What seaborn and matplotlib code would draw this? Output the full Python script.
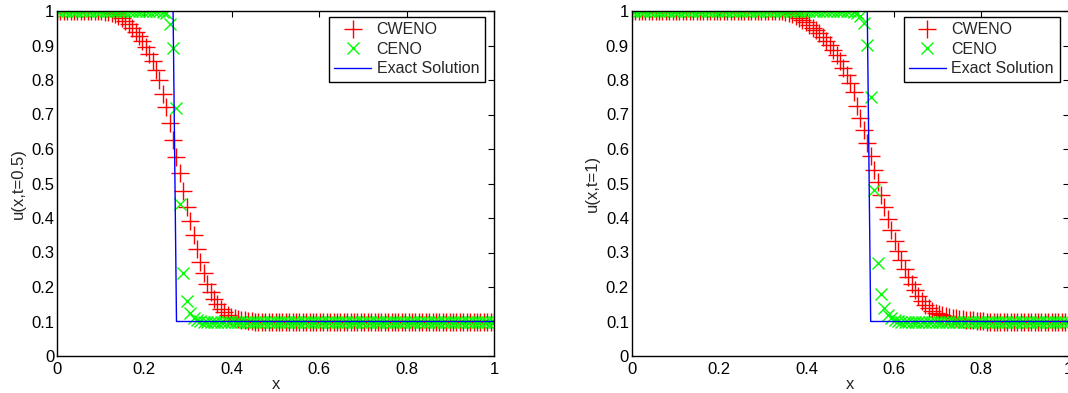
import numpy as np
import matplotlib
matplotlib.use("Agg")
import matplotlib.pyplot as plt
import seaborn as sns

# Uniform mesh on [0, 1] with 128 cells (nodes included)
N_CELLS = 128
x = np.arange(N_CELLS + 1) / N_CELLS

# ---- t = 0.5 ----
cweno_t05 = [
    1.0, 1.0, 1.0, 1.0, 1.0, 1.0, 1.0, 1.0, 1.0, 1.0, 1.0, 1.0, 1.0, 1.0, 0.998, 0.996,
    0.993, 0.99, 0.985, 0.98, 0.972, 0.963, 0.952, 0.94, 0.928, 0.913, 0.895, 0.875, 0.855, 0.83, 0.80, 0.76,
    0.723, 0.675, 0.626, 0.578, 0.53, 0.478, 0.433, 0.39, 0.35, 0.31, 0.272, 0.24, 0.21, 0.185, 0.165, 0.15,
    0.137, 0.127, 0.12, 0.114, 0.11, 0.107, 0.105, 0.103, 0.102, 0.101, 0.1, 0.1, 0.1, 0.1, 0.1, 0.1,
    0.1, 0.1, 0.1, 0.1, 0.1, 0.1, 0.1, 0.1, 0.1, 0.1, 0.1, 0.1, 0.1, 0.1, 0.1, 0.1,
    0.1, 0.1, 0.1, 0.1, 0.1, 0.1, 0.1, 0.1, 0.1, 0.1, 0.1, 0.1, 0.1, 0.1, 0.1, 0.1,
    0.1, 0.1, 0.1, 0.1, 0.1, 0.1, 0.1, 0.1, 0.1, 0.1, 0.1, 0.1, 0.1, 0.1, 0.1, 0.1,
    0.1, 0.1, 0.1, 0.1, 0.1, 0.1, 0.1, 0.1, 0.1, 0.1, 0.1, 0.1, 0.1, 0.1, 0.1, 0.1,
    0.1,
]
ceno_t05 = [
    1.0, 1.0, 1.0, 1.0, 1.0, 1.0, 1.0, 1.0, 1.0, 1.0, 1.0, 1.0, 1.0, 1.0, 1.0, 1.0,
    1.0, 1.0, 1.0, 1.0, 1.0, 1.0, 1.0, 1.0, 1.0, 1.0, 1.0, 1.0, 1.0, 1.0, 1.0, 0.998,
    0.993, 0.962, 0.892, 0.72, 0.44, 0.24, 0.16, 0.125, 0.11, 0.104, 0.101, 0.1, 0.1, 0.1, 0.1, 0.1,
    0.1, 0.1, 0.1, 0.1, 0.1, 0.1, 0.1, 0.1, 0.1, 0.1, 0.1, 0.1, 0.1, 0.1, 0.1, 0.1,
    0.1, 0.1, 0.1, 0.1, 0.1, 0.1, 0.1, 0.1, 0.1, 0.1, 0.1, 0.1, 0.1, 0.1, 0.1, 0.1,
    0.1, 0.1, 0.1, 0.1, 0.1, 0.1, 0.1, 0.1, 0.1, 0.1, 0.1, 0.1, 0.1, 0.1, 0.1, 0.1,
    0.1, 0.1, 0.1, 0.1, 0.1, 0.1, 0.1, 0.1, 0.1, 0.1, 0.1, 0.1, 0.1, 0.1, 0.1, 0.1,
    0.1, 0.1, 0.1, 0.1, 0.1, 0.1, 0.1, 0.1, 0.1, 0.1, 0.1, 0.1, 0.1, 0.1, 0.1, 0.1,
    0.1,
]
exact_t05 = [
    1.0, 1.0, 1.0, 1.0, 1.0, 1.0, 1.0, 1.0, 1.0, 1.0, 1.0, 1.0, 1.0, 1.0, 1.0, 1.0,
    1.0, 1.0, 1.0, 1.0, 1.0, 1.0, 1.0, 1.0, 1.0, 1.0, 1.0, 1.0, 1.0, 1.0, 1.0, 1.0,
    1.0, 1.0, 1.0, 0.1, 0.1, 0.1, 0.1, 0.1, 0.1, 0.1, 0.1, 0.1, 0.1, 0.1, 0.1, 0.1,
    0.1, 0.1, 0.1, 0.1, 0.1, 0.1, 0.1, 0.1, 0.1, 0.1, 0.1, 0.1, 0.1, 0.1, 0.1, 0.1,
    0.1, 0.1, 0.1, 0.1, 0.1, 0.1, 0.1, 0.1, 0.1, 0.1, 0.1, 0.1, 0.1, 0.1, 0.1, 0.1,
    0.1, 0.1, 0.1, 0.1, 0.1, 0.1, 0.1, 0.1, 0.1, 0.1, 0.1, 0.1, 0.1, 0.1, 0.1, 0.1,
    0.1, 0.1, 0.1, 0.1, 0.1, 0.1, 0.1, 0.1, 0.1, 0.1, 0.1, 0.1, 0.1, 0.1, 0.1, 0.1,
    0.1, 0.1, 0.1, 0.1, 0.1, 0.1, 0.1, 0.1, 0.1, 0.1, 0.1, 0.1, 0.1, 0.1, 0.1, 0.1,
    0.1,
]

# ---- t = 1 ----
cweno_t1 = [
    1.0, 1.0, 1.0, 1.0, 1.0, 1.0, 1.0, 1.0, 1.0, 1.0, 1.0, 1.0, 1.0, 1.0, 1.0, 1.0,
    1.0, 1.0, 1.0, 1.0, 1.0, 1.0, 1.0, 1.0, 1.0, 1.0, 1.0, 1.0, 1.0, 1.0, 1.0, 1.0,
    1.0, 1.0, 1.0, 1.0, 1.0, 1.0, 1.0, 1.0, 1.0, 1.0, 1.0, 1.0, 1.0, 0.998, 0.995, 0.99,
    0.985, 0.98, 0.974, 0.967, 0.96, 0.952, 0.944, 0.935, 0.925, 0.914, 0.902, 0.888, 0.872, 0.855, 0.836, 0.814,
    0.79, 0.764, 0.725, 0.69, 0.655, 0.618, 0.58, 0.54, 0.503, 0.468, 0.433, 0.398, 0.365, 0.334, 0.305, 0.278,
    0.253, 0.23, 0.21, 0.192, 0.175, 0.16, 0.148, 0.138, 0.131, 0.126, 0.122, 0.118, 0.115, 0.113, 0.111, 0.109,
    0.107, 0.106, 0.105, 0.104, 0.103, 0.102, 0.102, 0.101, 0.1, 0.1, 0.1, 0.1, 0.1, 0.1, 0.1, 0.1,
    0.1, 0.1, 0.1, 0.1, 0.1, 0.1, 0.1, 0.1, 0.1, 0.1, 0.1, 0.1, 0.1, 0.1, 0.1, 0.1,
    0.1,
]
ceno_t1 = [
    1.0, 1.0, 1.0, 1.0, 1.0, 1.0, 1.0, 1.0, 1.0, 1.0, 1.0, 1.0, 1.0, 1.0, 1.0, 1.0,
    1.0, 1.0, 1.0, 1.0, 1.0, 1.0, 1.0, 1.0, 1.0, 1.0, 1.0, 1.0, 1.0, 1.0, 1.0, 1.0,
    1.0, 1.0, 1.0, 1.0, 1.0, 1.0, 1.0, 1.0, 1.0, 1.0, 1.0, 1.0, 1.0, 1.0, 1.0, 1.0,
    1.0, 1.0, 1.0, 1.0, 1.0, 1.0, 1.0, 1.0, 1.0, 1.0, 1.0, 1.0, 1.0, 1.0, 1.0, 1.0,
    1.0, 0.998, 0.993, 0.985, 0.966, 0.901, 0.752, 0.481, 0.269, 0.179, 0.138, 0.119, 0.11, 0.105, 0.102, 0.1,
    0.1, 0.1, 0.1, 0.1, 0.1, 0.1, 0.1, 0.1, 0.1, 0.1, 0.1, 0.1, 0.1, 0.1, 0.1, 0.1,
    0.1, 0.1, 0.1, 0.1, 0.1, 0.1, 0.1, 0.1, 0.1, 0.1, 0.1, 0.1, 0.1, 0.1, 0.1, 0.1,
    0.1, 0.1, 0.1, 0.1, 0.1, 0.1, 0.1, 0.1, 0.1, 0.1, 0.1, 0.1, 0.1, 0.1, 0.1, 0.1,
    0.1,
]
exact_t1 = [
    1.0, 1.0, 1.0, 1.0, 1.0, 1.0, 1.0, 1.0, 1.0, 1.0, 1.0, 1.0, 1.0, 1.0, 1.0, 1.0,
    1.0, 1.0, 1.0, 1.0, 1.0, 1.0, 1.0, 1.0, 1.0, 1.0, 1.0, 1.0, 1.0, 1.0, 1.0, 1.0,
    1.0, 1.0, 1.0, 1.0, 1.0, 1.0, 1.0, 1.0, 1.0, 1.0, 1.0, 1.0, 1.0, 1.0, 1.0, 1.0,
    1.0, 1.0, 1.0, 1.0, 1.0, 1.0, 1.0, 1.0, 1.0, 1.0, 1.0, 1.0, 1.0, 1.0, 1.0, 1.0,
    1.0, 1.0, 1.0, 1.0, 1.0, 1.0, 0.1, 0.1, 0.1, 0.1, 0.1, 0.1, 0.1, 0.1, 0.1, 0.1,
    0.1, 0.1, 0.1, 0.1, 0.1, 0.1, 0.1, 0.1, 0.1, 0.1, 0.1, 0.1, 0.1, 0.1, 0.1, 0.1,
    0.1, 0.1, 0.1, 0.1, 0.1, 0.1, 0.1, 0.1, 0.1, 0.1, 0.1, 0.1, 0.1, 0.1, 0.1, 0.1,
    0.1, 0.1, 0.1, 0.1, 0.1, 0.1, 0.1, 0.1, 0.1, 0.1, 0.1, 0.1, 0.1, 0.1, 0.1, 0.1,
    0.1,
]

series_names = ["CWENO", "CENO", "Exact Solution"]
y_labels = ["u(x,t=0.5)", "u(x,t=1)"]
x_label = "x"
x_ticks = [0, 0.2, 0.4, 0.6, 0.8, 1]
x_tick_labels = ["0", "0.2", "0.4", "0.6", "0.8", "1"]
y_ticks = [0, 0.1, 0.2, 0.3, 0.4, 0.5, 0.6, 0.7, 0.8, 0.9, 1]
y_tick_labels = ["0", "0.1", "0.2", "0.3", "0.4", "0.5", "0.6", "0.7", "0.8", "0.9", "1"]

sns.set_style("white")
plt.rcParams["font.family"] = ["Liberation Sans", "DejaVu Sans"]

W, H = 1068, 393
fig = plt.figure(figsize=(W / 100, H / 100), dpi=100)
ax_left = fig.add_axes([57 / W, 37 / H, 437 / W, 345 / H])
ax_right = fig.add_axes([631.7 / W, 37 / H, 437 / W, 345 / H])

panels = [
    (ax_left, cweno_t05, ceno_t05, exact_t05, y_labels[0]),
    (ax_right, cweno_t1, ceno_t1, exact_t1, y_labels[1]),
]

for ax, cweno, ceno, exact, ylab in panels:
    sns.lineplot(x=x, y=cweno, ax=ax, color=(1, 0, 0), marker="+", linestyle="",
                 markersize=12.5, markeredgewidth=1.0, markeredgecolor=(1, 0, 0),
                 label=series_names[0], sort=False, estimator=None)
    sns.lineplot(x=x, y=ceno, ax=ax, color=(0, 1, 0), marker="x", linestyle="",
                 markersize=8, markeredgewidth=1.0, markeredgecolor=(0, 1, 0),
                 label=series_names[1], sort=False, estimator=None)
    sns.lineplot(x=x, y=exact, ax=ax, color=(0, 0, 1), linewidth=1.0,
                 label=series_names[2], sort=False, estimator=None)

    ax.set_xlim(0, 1)
    ax.set_ylim(0, 1)
    ax.set_xticks(x_ticks)
    ax.set_xticklabels(x_tick_labels)
    ax.set_yticks(y_ticks)
    ax.set_yticklabels(y_tick_labels)
    ax.tick_params(direction="in", length=4, width=0.8, top=True, right=True,
                   labelsize=12, colors="black", pad=4)
    ax.tick_params(axis="y", pad=2)
    for sp in ax.spines.values():
        sp.set_color("black")
        sp.set_linewidth(1.0)
        sp.set_visible(True)
    ax.set_xlabel(x_label, fontsize=12, labelpad=0)
    ax.set_ylabel(ylab, fontsize=12, labelpad=4)

    leg = ax.legend(loc="upper right", bbox_to_anchor=(0.979, 0.983), borderaxespad=0,
                    frameon=True, fancybox=False, edgecolor="black", framealpha=1,
                    fontsize=11.5, handlelength=2.3, handletextpad=0.35,
                    labelspacing=0.28, borderpad=0.35)
    leg.get_frame().set_linewidth(1.0)

fig.savefig("out.png", dpi=100)
